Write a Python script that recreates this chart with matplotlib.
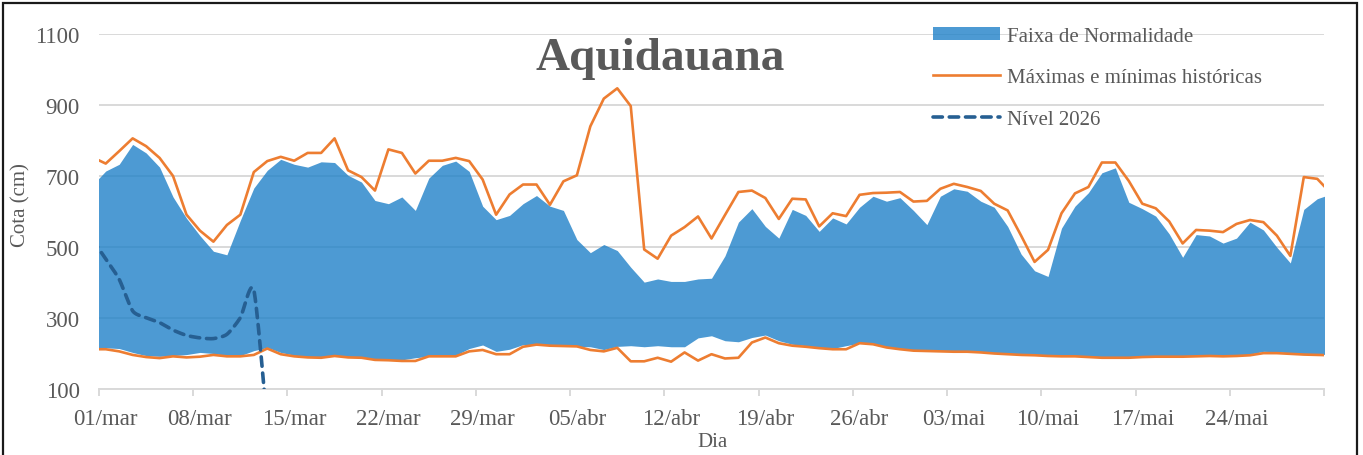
import numpy as np
import matplotlib
matplotlib.use("Agg")
import matplotlib.pyplot as plt
from matplotlib.patches import Rectangle, Patch
from matplotlib.lines import Line2D

# ---------------- data (day index 0 = 01/mar; -1 and 91 are the clipped edge points) -------------
dias = np.arange(-1, 92)

maximas = [753,
           735, 770, 806, 784, 751, 700, 591, 546, 515, 562, 591, 711, 742, 754, 743, 765,
           765, 806, 716, 697, 659, 775, 765, 707, 743, 743, 751, 742, 690, 591, 648,
           676, 676, 619, 685, 702, 840, 918, 947, 897, 493, 467, 532, 556, 586, 524,
           590, 655, 659, 638, 579, 636, 634, 558, 595, 587, 647, 652, 653, 655, 628,
           630, 664, 678, 669, 658, 622, 603, 532, 458, 492, 595, 651, 669, 738, 738,
           686, 622, 609, 572, 510, 548, 546, 542, 565, 576, 570, 532, 475, 697, 692, 652]

normal_sup = [674,
              714, 733, 789, 765, 725, 641, 581, 532, 488, 478, 575, 666, 716, 747, 733, 725,
              740, 738, 702, 683, 631, 622, 641, 603, 694, 730, 742, 713, 615, 577, 589,
              622, 645, 615, 603, 521, 484, 507, 490, 443, 401, 410, 403, 403, 410, 412,
              475, 570, 608, 558, 525, 606, 589, 544, 582, 565, 612, 643, 629, 639, 603,
              563, 643, 664, 657, 629, 612, 558, 480, 433, 417, 553, 615, 653, 709, 723,
              626, 608, 587, 537, 471, 535, 531, 511, 525, 570, 548, 499, 455, 606, 636, 649]

minimas = [212,
           212, 206, 196, 190, 187, 192, 189, 191, 196, 192, 192, 196, 214, 198, 192, 189,
           188, 193, 189, 188, 182, 181, 179, 179, 192, 192, 192, 206, 210, 198, 198,
           219, 225, 222, 221, 220, 210, 206, 216, 178, 178, 188, 177, 203, 180, 198,
           186, 188, 231, 245, 229, 222, 219, 215, 212, 212, 229, 226, 217, 212, 208,
           207, 206, 205, 205, 203, 200, 198, 196, 195, 193, 192, 192, 190, 188, 188,
           188, 190, 191, 191, 191, 192, 193, 192, 193, 195, 201, 201, 199, 197, 196, 195]

normal_inf = [216,
              216, 214, 203, 194, 192, 194, 197, 203, 200, 194, 194, 208, 217, 203, 195, 190,
              191, 193, 191, 190, 184, 183, 182, 188, 192, 192, 195, 214, 224, 206, 212,
              225, 225, 222, 220, 220, 219, 211, 220, 222, 219, 222, 219, 219, 244, 250,
              236, 233, 245, 252, 236, 226, 222, 217, 214, 222, 229, 226, 219, 214, 210,
              209, 208, 207, 207, 205, 202, 200, 198, 197, 195, 194, 194, 192, 190, 190,
              190, 192, 193, 193, 193, 194, 195, 194, 195, 198, 206, 205, 201, 199, 198, 197]

dias_2026 = np.arange(-1, 13)
nivel_2026 = [522, 466, 409, 320, 301, 287, 266, 251, 244, 242, 254, 301, 379, 0]

tick_pos = list(range(0, 85, 7))
tick_labels = ['01/mar', '08/mar', '15/mar', '22/mar', '29/mar', '05/abr', '12/abr',
               '19/abr', '26/abr', '03/mai', '10/mai', '17/mai', '24/mai']
y_ticks = [100, 300, 500, 700, 900, 1100]

# ---------------- style ----------------
plt.rcParams['font.family'] = ['Liberation Serif', 'DejaVu Serif']
GRAY_TXT = '#595959'
GRID = '#D9D9D9'
BLUE = (32/255, 129/255, 200/255)
ORANGE = '#ED7D31'
DARKBLUE = '#265F92'
DASH = (0, (2.6, 1.9))


def cardinal_spline(x, y, tension=0.35, n=24):
    x = np.asarray(x, float)
    y = np.asarray(y, float)
    px = np.concatenate([[x[0]], x, [x[-1]]])
    py = np.concatenate([[y[0]], y, [y[-1]]])
    t = np.linspace(0, 1, n, endpoint=False)
    h00 = 2*t**3 - 3*t**2 + 1
    h10 = t**3 - 2*t**2 + t
    h01 = -2*t**3 + 3*t**2
    h11 = t**3 - t**2
    xs, ys = [], []
    for i in range(1, len(px) - 2):
        for P, out in ((px, xs), (py, ys)):
            m1 = tension * (P[i+1] - P[i-1])
            m2 = tension * (P[i+2] - P[i])
            out.extend(h00*P[i] + h10*m1 + h01*P[i+1] + h11*m2)
    xs.append(x[-1])
    ys.append(y[-1])
    return np.array(xs), np.array(ys)


W, H = 1363, 456
fig = plt.figure(figsize=(W/100, H/100), dpi=100)
ax = fig.add_axes([99/W, 1 - 390/H, (1324 - 99)/W, (390 - 35)/H])

ax.set_xlim(-0.5, 90.5)
ax.set_ylim(100, 1100)

ax.set_yticks(y_ticks)
ax.yaxis.grid(True, color=GRID, linewidth=1.4, zorder=0)
ax.set_axisbelow(True)

ax.fill_between(dias, normal_inf, normal_sup, color=BLUE, alpha=0.8, linewidth=0, zorder=2)
ax.plot(dias, maximas, color=ORANGE, linewidth=1.9, zorder=3, solid_joinstyle='round')
ax.plot(dias, minimas, color=ORANGE, linewidth=1.9, zorder=3, solid_joinstyle='round')
sx, sy = cardinal_spline(dias_2026, nivel_2026)
ax.plot(sx, sy, color=DARKBLUE, linewidth=2.6, linestyle=DASH,
        dash_capstyle='round', zorder=4)

for s in ['top', 'right', 'left']:
    ax.spines[s].set_visible(False)
ax.spines['bottom'].set_color(GRID)
ax.spines['bottom'].set_linewidth(1.4)
ax.spines['bottom'].set_zorder(1)

ax.set_xticks(tick_pos)
ax.set_xticklabels(tick_labels)
ax.set_xticks([-0.5 + 7*k for k in range(14)], minor=True)
ax.tick_params(axis='x', which='major', length=0, pad=14, labelsize=16.5, labelcolor=GRAY_TXT)
ax.tick_params(axis='x', which='minor', length=5, width=1.4, color=GRID, direction='out')
ax.tick_params(axis='y', length=0, pad=14, labelsize=16.5, labelcolor=GRAY_TXT)

fig.text(660/W, 1 - 70/H, 'Aquidauana', ha='center', va='baseline', fontsize=34,
         fontweight='bold', color=GRAY_TXT)
fig.text(21/W, 1 - 205/H, 'Cota (cm)', rotation=90, ha='center', va='center',
         fontsize=15, color=GRAY_TXT)
fig.text(712/W, 1 - 443/H, 'Dia', ha='center', va='center', fontsize=15, color=GRAY_TXT)

handles = [Patch(facecolor=BLUE, alpha=0.8, edgecolor='none'),
           Line2D([], [], color=ORANGE, linewidth=1.9),
           Line2D([], [], color=DARKBLUE, linewidth=2.6, linestyle=DASH, dash_capstyle='round')]
labels = ['Faixa de Normalidade', 'Máximas e mínimas históricas', 'Nível 2026']
leg = fig.legend(handles, labels, loc='upper left', bbox_to_anchor=(933/W, 1 - 28/H),
                 frameon=False, fontsize=15, labelcolor=GRAY_TXT, handlelength=3.2,
                 handleheight=0.55, handletextpad=0.35, labelspacing=1.07,
                 borderpad=0, borderaxespad=0)

fig.add_artist(Rectangle((3/W, -0.05), (1357 - 3)/W, 1.05 - 4/H, transform=fig.transFigure,
                         fill=False, edgecolor='#1a1a1a', linewidth=1.6, clip_on=False))

fig.savefig('out.png', dpi=100)
